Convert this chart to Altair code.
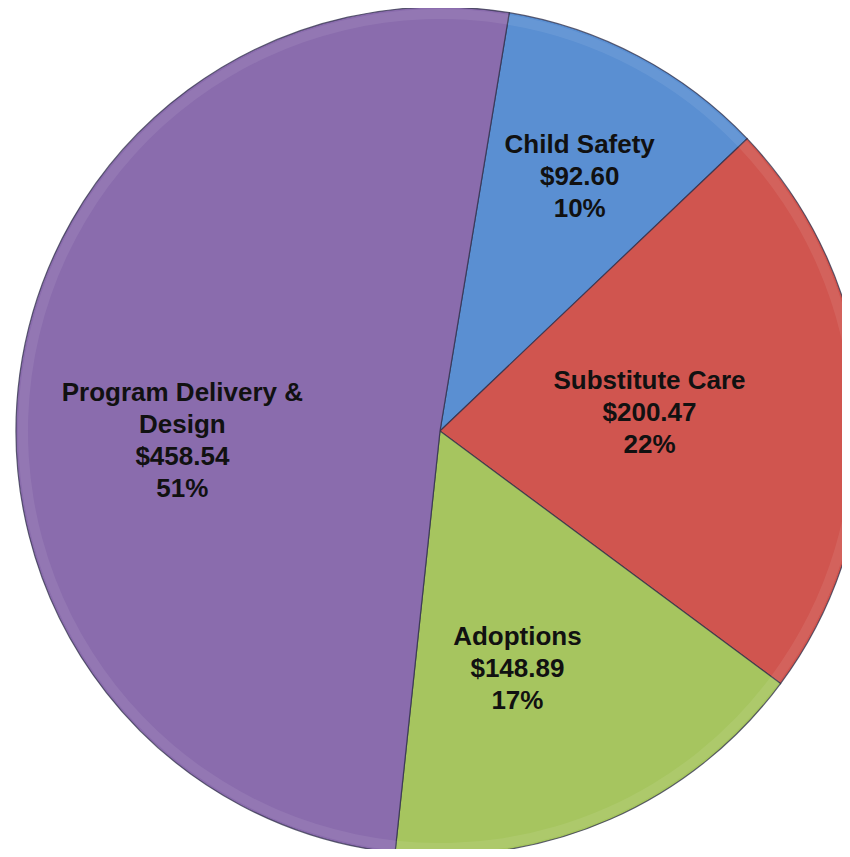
import math
import altair as alt
import pandas as pd

categories = ["Child Safety", "Substitute Care", "Adoptions", "Program Delivery & Design"]
amounts = [92.60, 200.47, 148.89, 458.54]
label_lines = [
    ["Child Safety"],
    ["Substitute Care"],
    ["Adoptions"],
    ["Program Delivery &", "Design"],
]
colors = ["#5A8FD2", "#D0554F", "#A6C55F", "#8A6CAD"]

total = sum(amounts)
rows = []
for i, (c, a, ll) in enumerate(zip(categories, amounts, label_lines)):
    pct = round(a / total * 100)
    rows.append({"idx": i, "category": c, "amount": a,
                 "label": ll + [f"${a:,.2f}", f"{pct}%"]})
df = pd.DataFrame(rows)

start = math.radians(9.4)
theta_enc = alt.Theta("amount:Q", stack=True,
                      scale=alt.Scale(range=[start, start + 2 * math.pi]))
color_enc = alt.Color("category:N", legend=None,
                      scale=alt.Scale(domain=categories, range=colors))
cx, cy, R = 432, 423, 424

base = alt.Chart(df)

pie = base.mark_arc(radius=R, stroke="#2e2e48", strokeWidth=1.2, strokeOpacity=0.75).encode(
    theta=theta_enc, color=color_enc, order=alt.Order("idx:Q"),
    x=alt.value(cx), y=alt.value(cy),
)

# inner bevel highlight
rim = base.mark_arc(radius=R - 2, radius2=R - 12, fill="white", fillOpacity=0.08, stroke=None).encode(
    theta=theta_enc, order=alt.Order("idx:Q"),
    x=alt.value(cx), y=alt.value(cy),
)

offsets = {
    "Child Safety": (260, 18, -56),
    "Substitute Care": (260, -50, -34),
    "Adoptions": (260, -27, -32),
    "Program Delivery & Design": (260, 0, -3),
}

layers = [pie, rim]
for c in categories:
    r, dx, dy = offsets[c]
    t = base.mark_text(radius=r, dx=dx, dy=dy, font="Liberation Sans", fontSize=26,
                       fontWeight="bold", color="#111111", lineHeight=32,
                       align="center", baseline="middle").encode(
        theta=theta_enc, order=alt.Order("idx:Q"),
        text="label",
        x=alt.value(cx), y=alt.value(cy),
        opacity=alt.condition(alt.datum.category == c, alt.value(1), alt.value(0)),
    )
    layers.append(t)

chart = alt.layer(*layers).properties(
    width=834, height=841, padding=0,
    autosize=alt.AutoSizeParams(type="none"),
).configure_view(stroke=None)

chart.save("out.html", embed_options={"renderer": "svg", "actions": False})
